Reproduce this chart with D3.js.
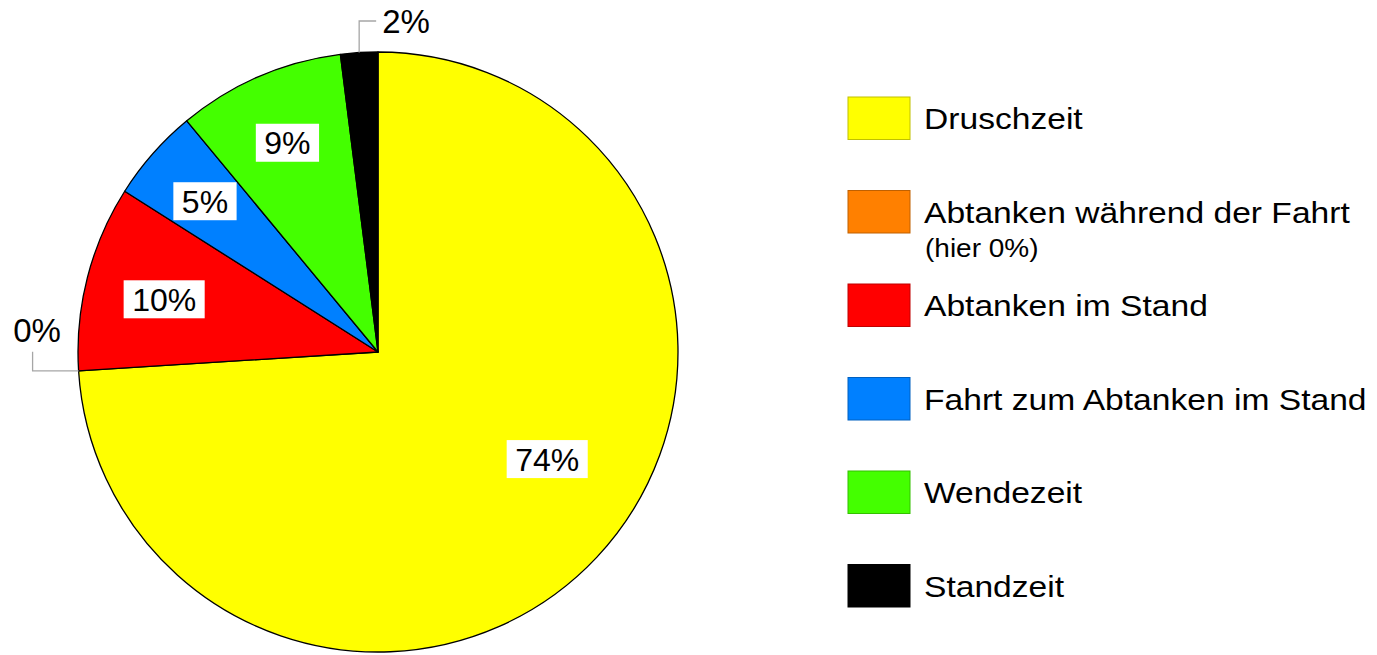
<!DOCTYPE html>
<html>
<head>
<meta charset="utf-8">
<script src="https://cdn.jsdelivr.net/npm/d3@7"></script>
<style>
  html, body { margin: 0; padding: 0; background: #fff; }
  svg { display: block; font-family: "Liberation Sans", Arial, sans-serif; }
</style>
</head>
<body>
<svg id="chart" width="1377" height="655"></svg>
<script>
// Time shares of a combine harvester's working day (in percent)
const categories = [
  "Druschzeit",
  "Abtanken während der Fahrt",
  "Abtanken im Stand",
  "Fahrt zum Abtanken im Stand",
  "Wendezeit",
  "Standzeit"
];
const shares = [74, 0, 10, 5, 9, 2];
const percentLabels = ["74%", "0%", "10%", "5%", "9%", "2%"];
const legendNotes = ["", "(hier 0%)", "", "", "", ""];
const colors = ["#FFFF00", "#FF8000", "#FF0000", "#0080FF", "#44FF00", "#000000"];

const svg = d3.select("#chart");
const cx = 378, cy = 352, R = 300;

const slices = d3.pie().sort(null).value(d => d.value)
  .startAngle(0).endAngle(2 * Math.PI)(
    categories.map((c, i) => ({ name: c, value: shares[i], label: percentLabels[i], color: colors[i] }))
  );

const arc = d3.arc().innerRadius(0).outerRadius(R);

const pieG = svg.append("g").attr("transform", `translate(${cx},${cy})`);

pieG.selectAll("path.slice")
  .data(slices.filter(d => d.value > 0))
  .join("path")
  .attr("class", "slice")
  .attr("d", arc)
  .attr("fill", d => d.data.color)
  .attr("stroke", "#000")
  .attr("stroke-width", 1.3)
  .attr("stroke-linejoin", "round");

// Labels inside the larger slices, on white boxes
const labelR = 0.76 * R;
const labelShift = { "Druschzeit": [3, -49], "Abtanken im Stand": [7, 4], "Fahrt zum Abtanken im Stand": [-2, 0] };
const inside = slices.filter(d => d.value >= 3);

const insideG = pieG.selectAll("g.inlabel").data(inside).join("g").attr("class", "inlabel")
  .attr("transform", d => {
    const mid = (d.startAngle + d.endAngle) / 2;
    const s = labelShift[d.data.name] || [0, 0];
    return `translate(${labelR * Math.sin(mid) + s[0]},${-labelR * Math.cos(mid) + s[1]})`;
  });

insideG.append("rect").attr("fill", "#fff");
insideG.append("text")
  .attr("text-anchor", "middle")
  .attr("y", 11.5)
  .attr("font-size", 32)
  .attr("fill", "#000")
  .text(d => d.data.label);
insideG.each(function () {
  const g = d3.select(this);
  const w = g.select("text").node().getComputedTextLength();
  g.select("rect").attr("x", -w / 2 - 8.5).attr("y", -19).attr("width", w + 17).attr("height", 38);
});

// Labels for very small slices, outside the pie with elbow leader lines
const outside = slices.filter(d => d.value < 3);
outside.forEach(d => {
  const mid = (d.startAngle + d.endAngle) / 2;
  const sx = R * Math.sin(mid), sy = -R * Math.cos(mid);
  let pts, tx, ty, anchor;
  if (Math.abs(Math.sin(mid)) > Math.abs(Math.cos(mid))) {
    // side of the pie: go outwards horizontally, then up
    const dir = Math.sign(Math.sin(mid));
    const ex = sx + dir * 46;
    pts = [[sx, sy], [ex, sy], [ex, sy - 19]];
    tx = ex + dir * -4.5; ty = sy - 29; anchor = "middle";
  } else {
    // top of the pie: go upwards, then to the right
    const ey = -R - 31;
    pts = [[sx, sy], [sx, ey], [sx + 17, ey]];
    tx = sx + 23; ty = ey + 12; anchor = "start";
  }
  pieG.append("path")
    .attr("d", d3.line()(pts))
    .attr("fill", "none")
    .attr("stroke", "#a6a6a6")
    .attr("stroke-width", 1.3);
  pieG.append("text")
    .attr("x", tx).attr("y", ty)
    .attr("text-anchor", anchor)
    .attr("font-size", 33)
    .attr("fill", "#000")
    .text(d.data.label);
});

// Legend
const legendX = 848, legendTop = 97, legendStep = 93.5;
const legendY = d3.scaleLinear().domain([0, 1]).range([legendTop, legendTop + legendStep]);
const leg = svg.append("g").selectAll("g").data(categories).join("g")
  .attr("transform", (d, i) => `translate(${legendX},${legendY(i)})`);

leg.append("rect")
  .attr("width", 62).attr("height", 42.5)
  .attr("fill", (d, i) => colors[i])
  .attr("stroke", (d, i) => d3.color(colors[i]).darker(0.8))
  .attr("stroke-width", 1);

// legend text is set slightly wide
leg.append("text")
  .attr("transform", "translate(76,32) scale(1.12,1)")
  .attr("font-size", 30)
  .attr("fill", "#000")
  .text(d => d);

leg.filter((d, i) => legendNotes[i] !== "")
  .append("text")
  .attr("transform", "translate(77,66) scale(1.12,1)")
  .attr("font-size", 25)
  .attr("fill", "#000")
  .text(d => legendNotes[categories.indexOf(d)]);
</script>
</body>
</html>
